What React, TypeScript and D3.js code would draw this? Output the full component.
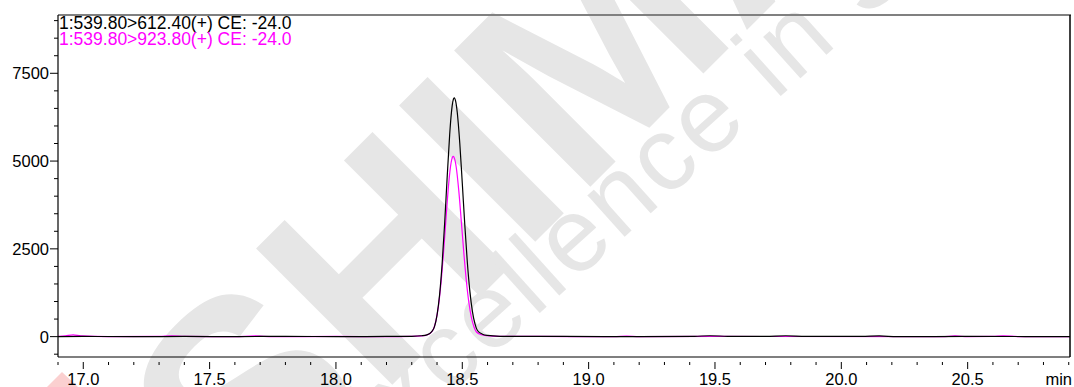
import * as d3 from 'd3';

// retention time (min) and intensity for the two MRM traces
const blackTime = [16.9, 17.0, 17.2, 17.4, 17.6, 17.8, 18.0, 18.2, 18.3, 18.34, 18.36, 18.38, 18.39, 18.4, 18.41, 18.42, 18.43, 18.44, 18.45, 18.455, 18.46, 18.465, 18.468, 18.475, 18.48, 18.49, 18.5, 18.51, 18.52, 18.53, 18.54, 18.55, 18.56, 18.58, 18.6, 18.65, 18.7, 18.9, 19.2, 19.42, 19.48, 19.55, 19.7, 19.78, 19.86, 20.08, 20.15, 20.22, 20.5, 20.905];
const blackInt = [0, 5, 0, 5, 0, 10, 0, 5, 10, 25, 50, 150, 287, 614, 1181, 2051, 3208, 4522, 5746, 6229, 6577, 6768, 6800, 6657, 6390, 5515, 4366, 3170, 2110, 1289, 722, 371, 175, 70, 35, 10, 5, 5, 0, 10, 25, 10, 5, 25, 5, 5, 20, 0, 5, 0];

const pinkTime = [16.9, 16.93, 16.96, 16.99, 17.1, 17.3, 17.35, 17.4, 17.6, 17.68, 17.75, 18.0, 18.2, 18.296, 18.336, 18.356, 18.376, 18.386, 18.396, 18.406, 18.416, 18.426, 18.436, 18.446, 18.451, 18.456, 18.461, 18.464, 18.471, 18.476, 18.486, 18.496, 18.506, 18.516, 18.526, 18.536, 18.546, 18.556, 18.576, 18.596, 18.646, 18.8, 19.1, 19.15, 19.2, 19.5, 20.4, 20.45, 20.5, 20.6, 20.64, 20.7, 20.905];
const pinkInt = [5, 25, 50, 20, 0, 5, 25, 5, 0, 20, 0, 5, 0, 8, 19, 38, 113, 217, 464, 892, 1549, 2422, 3414, 4338, 4703, 4966, 5110, 5134, 5026, 4824, 4164, 3296, 2393, 1593, 973, 545, 280, 132, 53, 26, 8, 5, 0, 15, 0, 5, 0, 20, 0, 5, 25, 0, 0];

const legendLabels = ['1:539.80>612.40(+) CE: -24.0', '1:539.80>923.80(+) CE: -24.0'];
const legendColors = ['#000000', '#ff00ff'];
const xTickLabels = ['17.0', '17.5', '18.0', '18.5', '19.0', '19.5', '20.0', '20.5'];
const yTickLabels = ['0', '2500', '5000', '7500'];

const FONT = 'Liberation Sans, Arial, sans-serif';

export default function App() {
  const width = 1074;
  const height = 387;
  const left = 58, right = 1070, top = 15, bottom = 357;

  const x = d3.scaleLinear().domain([16.9, 20.905]).range([left, right]);
  const y = d3.scaleLinear().domain([-580, 9160]).range([bottom, top]);

  const line = d3.line<[number, number]>()
    .x(d => x(d[0]))
    .y(d => y(d[1]))
    .curve(d3.curveMonotoneX);

  const blackPath = line(blackTime.map((t, i) => [t, blackInt[i]])) || '';
  const pinkPath = line(pinkTime.map((t, i) => [t, pinkInt[i]])) || '';

  // minor ticks every 0.1 min / 500 counts
  const xMinor = d3.range(169, 210).map(v => v / 10);
  const yMinor = d3.range(-500, 9001, 500);
  const xMajor = xTickLabels.map(Number);
  const yMajor = yTickLabels.map(Number);

  return (
    <div style={{ position: 'fixed', left: 0, top: 0 }}>
      <svg width={width} height={height} style={{ display: 'block', background: '#fff' }}>
        <defs>
          <clipPath id="plot">
            <rect x={left} y={top} width={right - left} height={bottom - top} />
          </clipPath>
        </defs>

        {/* watermark */}
        <g fill="#e6e6e6" fontFamily={FONT}>
          <text transform="translate(247,530) rotate(-45)" fontSize={280} fontWeight="bold">SHIMADZU</text>
          <text transform="translate(352,482) rotate(-42)" fontSize={105} letterSpacing={3}>Excellence in Science</text>
        </g>
        <polygon points="47,387 62,372 78,387" fill="#fbd0d0" />

        {/* traces */}
        <g clipPath="url(#plot)" fill="none">
          <path d={pinkPath} stroke="#ff00ff" strokeWidth={1.2} />
          <path d={blackPath} stroke="#000" strokeWidth={1.2} />
        </g>

        {/* frame */}
        <line x1={left} x2={right + 1} y1={top} y2={top} stroke="#808080" strokeWidth={2} />
        <line x1={left} x2={left} y1={top} y2={bottom} stroke="#000" strokeWidth={1.2} />
        <line x1={right} x2={right} y1={top} y2={bottom} stroke="#000" strokeWidth={1.5} />
        <line x1={left} x2={right} y1={bottom} y2={bottom} stroke="#000" strokeWidth={1.2} />

        {/* y axis */}
        <g stroke="#000" strokeWidth={1}>
          {yMinor.map(v => {
            const major = yMajor.includes(v);
            return <line key={v} x1={left - (major ? 8 : 4)} x2={left} y1={y(v)} y2={y(v)} />;
          })}
        </g>
        <g fontFamily={FONT} fontSize={16.5} textAnchor="end" fill="#000">
          {yTickLabels.map(l => (
            <text key={l} x={left - 9} y={y(+l)} dy="0.36em">{l}</text>
          ))}
        </g>

        {/* x axis */}
        <g stroke="#000" strokeWidth={1}>
          {xMinor.map(v => {
            const major = xMajor.some(m => Math.abs(m - v) < 1e-6);
            return <line key={v} x1={x(v)} x2={x(v)} y1={bottom + 5} y2={bottom + (major ? 12 : 8)} />;
          })}
        </g>
        <g fontFamily={FONT} fontSize={16.5} textAnchor="middle" fill="#000">
          {xTickLabels.map(l => (
            <text key={l} x={x(+l)} y={385}>{l}</text>
          ))}
          <text x={1072} y={385} textAnchor="end">min</text>
        </g>

        {/* legend */}
        <g fontFamily={FONT} fontSize={17.5}>
          {legendLabels.map((l, i) => (
            <text key={l} x={left + 1} y={29 + i * 15.5} fill={legendColors[i]}>{l}</text>
          ))}
        </g>
      </svg>
    </div>
  );
}
